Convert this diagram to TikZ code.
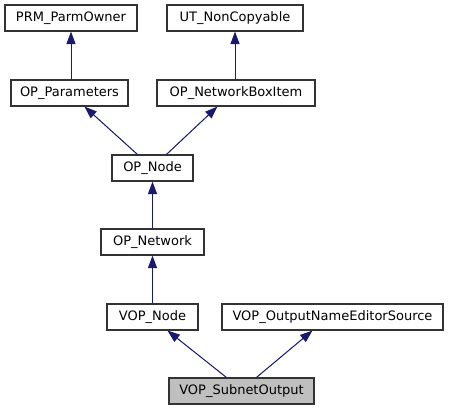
\documentclass[tikz,border=0pt]{standalone}
\usepackage{fontspec}
\setmainfont{DejaVu Sans}
\usetikzlibrary{arrows.meta}
\definecolor{edgeblue}{HTML}{191970}
\definecolor{hilite}{HTML}{BFBFBF}
\begin{document}
\begin{tikzpicture}[x=1pt,y=-1pt,
  cls/.style={draw=black!80, line width=1.1pt, rectangle, minimum height=26pt, inner sep=0pt, font=\fontsize{13}{15}\selectfont, fill=white},
  edge/.style={draw=edgeblue, line width=1pt, -{Triangle[length=12.5pt,width=9pt]}, fill=edgeblue}]
\fill[white] (0,0) rectangle (449,411);
\useasboundingbox (0,0) rectangle (449,411);
\node[cls, minimum width=132pt] (prm) at (71,18) {PRM\_ParmOwner};
\node[cls, minimum width=136pt] (ut) at (235,18) {UT\_NonCopyable};
\node[cls, minimum width=117pt] (opp) at (69.5,93) {OP\_Parameters};
\node[cls, minimum width=158pt] (nbi) at (236,93) {OP\_NetworkBoxItem};
\node[cls, minimum width=81pt] (opnode) at (152.5,168) {OP\_Node};
\node[cls, minimum width=103pt] (opnet) at (152.5,242) {OP\_Network};
\node[cls, minimum width=91pt] (vopnode) at (152.5,317) {VOP\_Node};
\node[cls, minimum width=221pt] (src) at (332.5,317) {VOP\_OutputNameEditorSource};
\node[cls, minimum width=145pt, fill=hilite] (sub) at (241.5,391) {VOP\_SubnetOutput};
\draw[edge] (opp.north -| prm) -- (prm.south);
\draw[edge] (nbi.north -| ut) -- (ut.south);
\draw[edge] ([xshift=26pt]opnode.north west) -- ([xshift=74pt]opp.south west);
\draw[edge] ([xshift=55pt]opnode.north west) -- ([xshift=61pt]nbi.south west);
\draw[edge] (opnet.north) -- (opnode.south);
\draw[edge] (vopnode.north) -- (opnet.south);
\draw[edge] ([xshift=58pt]sub.north west) -- ([xshift=61pt]vopnode.south west);
\draw[edge] ([xshift=88pt]sub.north west) -- ([xshift=91pt]src.south west);
\end{tikzpicture}
\end{document}
